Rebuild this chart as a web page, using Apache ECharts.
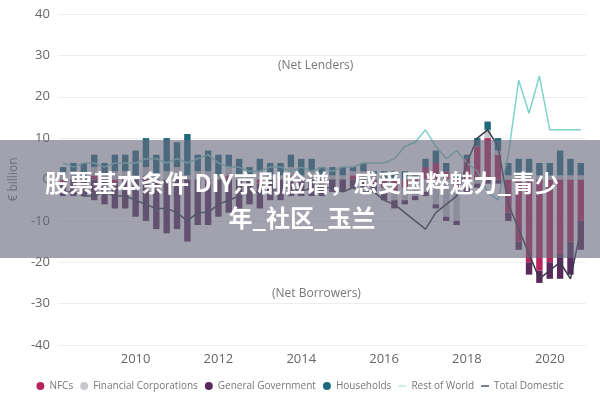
<!DOCTYPE html>
<html><head><meta charset="utf-8">
<script src="https://cdn.jsdelivr.net/npm/echarts@6/dist/echarts.min.js"></script>
<style>html,body{margin:0;padding:0;background:#fff}#c{width:600px;height:400px}</style>
</head><body><div id="c"></div>
<script>
const years = [2008,2009,2010,2011,2012,2013,2014,2015,2016,2017,2018,2019,2020];
const categories = [];
years.forEach(y => { for (let q = 1; q <= 4; q++) if (!(y === 2008 && q === 1)) categories.push(y + 'Q' + q); });
const households = [2,2,3, 3,3,4,4, 6,7,5,8, 6,10,4,5, 5,3,4,2, 3,3,3,3, 4,3,2,2, 2,1,2,1, 2,2,2,1, 2,3,2,1, 1,2,2,3, 3,4,4,3, 3,6,4,3];
const government = [-3,-4,-4, -5,-6,-6,-7, -9,-10,-12,-13, -12,-15,-11,-10, -9,-8,-7,-6, -6,-5,-5,-4, -4,-4,-3,-3, -3,-2,-2,-2, -2,-2,-1,-1, -1,-1,-1,-1, -1,-1,-1,-1, -2,-2,-3,-3, -4,-6,-8,-7];
const nfcs = [-1,0,0, 1,0,-1,0, 0,1,0,0, 1,0,0,-1, 0,1,0,0, -1,0,0,1, 0,0,-1,0, 0,1,0,-1, -2,-3,-2,-1, 3,4,2,-2, 5,8,10,6, -8,-15,-20,-22, -20,-18,-15,-10];
const financial = [1,2,1, 2,1,2,2, 1,2,1,2, 2,1,2,2, 1,2,1,1, 2,1,1,2, 1,2,1,1, 1,1,2,1, -1,-2,-3,-3, -3,-6,-9,-8, -2,-1,2,1, 1,1,1,1, 1,1,1,1];
const restOfWorld = [4,3,4, 4,3,4,4, 4,5,5,4, 5,4,5,6, 4,3,3,2, 2,3,3,2, 3,2,3,2, 3,3,4,4, 4,5,8,9, 12,8,5,7, 4,2,-3,-5, 6,24,16,25, 12,12,12,12];
const totalDomestic = [-3,-3,-4, -4,-3,-4,-4, -5,-6,-7,-7, -8,-10,-8,-8, -6,-5,-4,-3, -3,-3,-2,-2, -3,-2,-2,-2, -3,-2,-3,-3, -5,-6,-8,-10, -12,-8,-6,-4, 4,10,12,8, -6,-12,-18,-24, -22,-20,-24,-12];
const chart = echarts.init(document.getElementById('c'));
const font = 'Open Sans';
function bar(name, data, color) {
  return {name, type:'bar', stack:'s', data, barWidth:'62%', itemStyle:{color}};
}
chart.setOption({
  animation:false,
  textStyle:{fontFamily:font},
  grid:{left:56,right:14,top:14,bottom:55},
  legend:{bottom:4,left:'center',itemWidth:8,itemHeight:8,itemGap:7,textStyle:{fontSize:10,color:'#777'},
    data:[{name:'NFCs',icon:'circle'},{name:'Financial Corporations',icon:'circle'},{name:'General Government',icon:'circle'},{name:'Households',icon:'circle'},{name:'Rest of World',icon:'path://M0,45H100V55H0Z'},{name:'Total Domestic',icon:'path://M0,42H100V58H0Z'}]},
  xAxis:{type:'category',data:categories,axisTick:{show:false},axisLine:{show:false},
    axisLabel:{color:'#666',fontSize:13,interval:0,formatter:v=>{const y=+v.slice(0,4);return (v.endsWith('Q1')&&y%2===0)?String(y):'';}}},
  yAxis:{type:'value',min:-40,max:40,interval:10,name:'€ billion',nameLocation:'middle',nameGap:36,nameTextStyle:{color:'#777',fontSize:12},
    axisLabel:{color:'#666',fontSize:13},splitLine:{lineStyle:{color:'#eee'}}},
  series:[
    bar('NFCs',nfcs,'#b8245e'),
    bar('Financial Corporations',financial,'#c8c8cc'),
    bar('General Government',government,'#5b2a5c'),
    bar('Households',households,'#1e6b7e'),
    {name:'Rest of World',type:'line',data:restOfWorld,symbol:'none',lineStyle:{color:'#7fd3cb',width:1.5},itemStyle:{color:'#7fd3cb'}},
    {name:'Total Domestic',type:'line',data:totalDomestic,symbol:'none',lineStyle:{color:'#333c4a',width:1.5},itemStyle:{color:'#333c4a'}}
  ],
  graphic:[
    {type:'text',left:278,top:60,style:{text:'(Net Lenders)',fill:'#777',fontSize:12,fontFamily:font}},
    {type:'text',left:272,top:288,style:{text:'(Net Borrowers)',fill:'#777',fontSize:12,fontFamily:font}},
    {type:'rect',shape:{x:0,y:140,width:600,height:118},style:{fill:'rgba(105,105,125,0.62)'},z:100},
    {type:'text',x:302,y:183,z:101,style:{text:'股票基本条件 DIY京剧脸谱，感受国粹魅力_青少',fill:'#fff',fontSize:24,fontWeight:'bold',fontFamily:'Noto Sans CJK SC',align:'center',verticalAlign:'middle'}},
    {type:'text',x:302,y:218,z:101,style:{text:'年_社区_玉兰',fill:'#fff',fontSize:24,fontWeight:'bold',fontFamily:'Noto Sans CJK SC',align:'center',verticalAlign:'middle'}}
  ]
});
</script></body></html>
